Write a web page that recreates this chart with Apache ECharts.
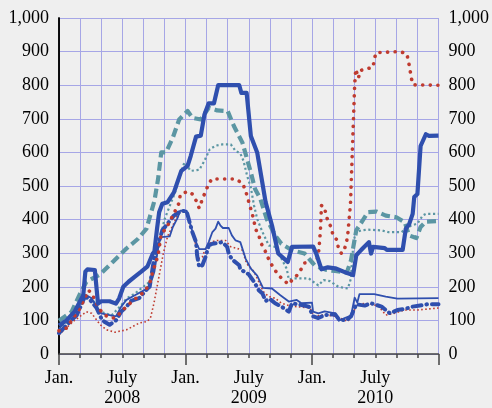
<!DOCTYPE html>
<html>
<head>
<meta charset="utf-8">
<script src="https://cdn.jsdelivr.net/npm/echarts@6/dist/echarts.min.js"></script>
<style>
html,body{margin:0;padding:0;background:#efefef;}
#c{width:492px;height:408px;}
</style>
</head>
<body>
<div id="c"></div>
<script>
// x values are months since January 2008
var tickMonths = [0, 6, 12, 18, 24, 30];
var tickText = ['Jan.', 'July\n2008', 'Jan.', 'July\n2009', 'Jan.', 'July\n2010'];

var thickBlue = [[0,85],[0.7,100],[1.5,127],[2.3,175],[2.5,245],[2.7,252],[3.4,250],[3.7,150],[4.0,157],[4.8,157],[5.4,150],[5.7,165],[6.1,200],[6.6,215],[7.2,230],[7.8,245],[8.4,261],[8.9,299],[9.05,305],[9.3,373],[9.5,422],[9.8,447],[10.3,452],[10.9,481],[11.6,545],[12.2,560],[12.5,590],[13,647],[13.45,650],[13.8,713],[14.2,746],[14.7,746],[15.1,800],[17.1,800],[17.3,777],[17.8,777],[18.2,649],[18.8,600],[19.6,452],[20.2,383],[20.8,299],[21.7,274],[22.1,319],[24.1,320],[24.4,299],[24.9,252],[25.5,258],[26.2,255],[27.4,240],[27.9,235],[28.2,294],[28.5,304],[28.8,314],[29.4,333],[29.6,299],[29.8,319],[30.9,315],[31.1,310],[32.6,310],[32.9,373],[33.2,385],[33.55,417],[33.7,467],[34.0,476],[34.3,619],[34.8,654],[35.1,649],[36,650]];

var thickTeal = [[0,99],[1.2,126],[2.0,180],[2.6,215],[3.9,237],[5.1,274],[6.4,314],[7.5,343],[8.3,373],[8.7,417],[9.05,456],[9.4,521],[9.7,600],[10.15,600],[10.8,644],[11.4,698],[12.2,723],[12.65,703],[13.45,698],[14.2,733],[15,725],[16,723],[16.6,678],[17.4,629],[18.2,540],[18.6,491],[19.1,462],[19.7,402],[20.5,353],[21.1,328],[22.1,309],[23.3,299],[24.3,262],[25.4,250],[26.2,247],[27.3,242],[27.7,279],[28,333],[28.2,368],[28.8,397],[29.3,422],[30.1,424],[31,412],[32,407],[32.8,392],[33.2,353],[33.9,345],[34.3,378],[34.8,394],[36,396]];

var thickRed = [[0,69],[0.7,77],[2,136],[2.8,190],[3.2,175],[3.55,151],[3.9,131],[4.3,116],[5,107],[5.4,108],[5.9,126],[6.4,141],[6.85,154],[7.5,171],[8.1,185],[8.6,210],[8.9,245],[9.4,294],[9.7,358],[10.15,373],[10.8,412],[11.4,450],[11.5,474],[12.2,484],[12.65,476],[13,457],[13.3,434],[13.6,461],[13.9,484],[14.2,506],[14.5,521],[16.7,521],[17.4,509],[17.7,486],[18.1,442],[18.3,420],[18.5,397],[18.6,375],[18.95,353],[19.2,328],[19.6,304],[20.0,274],[20.4,254],[20.8,235],[21.3,220],[21.8,207],[22.1,220],[22.6,235],[23,254],[23.3,271],[24.4,274],[24.6,294],[24.7,328],[24.8,368],[24.9,442],[25.2,437],[25.3,417],[25.5,397],[25.8,378],[26,353],[26.4,338],[26.5,314],[26.8,299],[27.1,314],[27.3,338],[27.4,358],[27.65,447],[28.05,802],[28.15,848],[28.4,821],[28.6,844],[29.15,848],[29.8,854],[29.9,878],[30.1,897],[32.35,900],[33,893],[33.15,871],[33.3,846],[33.4,823],[33.6,801],[36,800]];

var thinTeal = [[0,72],[1.5,115],[2.5,170],[3.1,166],[4,125],[5,115],[5.9,145],[6.4,165],[7.2,180],[7.8,195],[8.6,215],[9.05,260],[9.5,330],[10,400],[10.5,440],[11,480],[11.6,545],[11.9,570],[12.5,545],[13.3,548],[13.8,575],[14.3,609],[14.85,620],[15.5,624],[16.3,624],[16.75,604],[17.2,597],[17.5,575],[17.85,530],[18.2,495],[18.5,442],[18.8,402],[19.3,363],[19.9,323],[20.5,319],[21.1,284],[21.6,254],[21.8,222],[22.3,225],[23.7,225],[24.1,215],[24.6,204],[25.1,220],[25.7,217],[26.5,200],[27.4,195],[27.7,225],[27.8,284],[28,343],[28.2,363],[28.7,368],[29.3,370],[30.6,368],[31.2,363],[32.5,363],[32.8,370],[33.4,382],[34,388],[34.5,412],[34.8,417],[36,417]];

var thinBlue = [[0,75],[1.5,131],[2.3,166],[2.6,175],[3.1,166],[3.55,141],[4,121],[4.8,116],[5.4,112],[5.9,141],[6.4,161],[7.2,175],[8.1,190],[8.6,200],[9.05,245],[9.5,335],[9.7,348],[10.5,350],[10.8,378],[11.25,405],[11.5,427],[12.1,427],[12.3,405],[12.65,365],[13,333],[13.3,312],[13.9,312],[14.2,333],[14.55,363],[14.85,373],[15.1,394],[15.3,383],[15.55,375],[16.1,375],[16.4,353],[16.75,338],[17.2,333],[17.7,284],[18.2,254],[18.8,233],[19.35,197],[20.2,195],[21,175],[21.8,156],[22.55,161],[23,151],[24,153],[24.1,126],[24.6,121],[25.2,127],[26.2,121],[26.55,99],[27.1,107],[27.7,114],[28.05,168],[28.3,153],[28.5,178],[29.9,178],[31,171],[32.1,165],[36,166]];

var dashDotBlue = [[0,62],[1.2,101],[1.7,116],[2.45,171],[2.9,163],[3.55,138],[4.1,100],[4.8,87],[5.4,100],[5.9,126],[6.4,141],[6.85,158],[7.6,166],[8.4,195],[8.6,200],[9.05,289],[9.8,368],[10.3,388],[10.9,412],[11.6,426],[12.1,425],[12.65,363],[13,333],[13.1,294],[13.3,259],[13.6,264],[13.9,289],[14.2,323],[14.55,328],[15,330],[15.5,333],[15.95,319],[16.1,299],[16.4,282],[17.1,264],[17.2,252],[18,237],[18.5,215],[18.95,190],[19.3,180],[19.6,158],[20,164],[20.5,151],[21.1,141],[21.8,126],[22.1,151],[23,146],[23.7,141],[24.1,112],[24.6,107],[25.2,116],[26.2,118],[26.6,101],[27.3,101],[27.7,112],[28.2,148],[29,144],[29.6,151],[30.6,141],[31.4,121],[32.1,131],[32.8,134],[33.55,141],[34.95,148],[36,148]];

var thinRed = [[0,57],[1.35,97],[2.6,126],[3.1,121],[3.9,87],[4.5,72],[5.3,65],[6.4,72],[7.6,92],[8.4,97],[8.7,110],[9.0,150],[9.3,200],[9.6,250],[9.9,300],[10.3,350],[10.8,383],[11.2,410],[11.6,424],[12,424],[12.5,380],[13,323],[13.3,284],[13.6,289],[13.9,314],[14.4,333],[15,338],[15.8,338],[16.3,319],[16.9,314],[17.4,309],[17.8,269],[18.5,245],[18.95,215],[19.4,185],[19.9,171],[20.5,166],[21.1,151],[21.8,144],[22.55,141],[23.8,137],[24.2,112],[25.2,117],[26.3,112],[27.4,97],[27.9,121],[28.2,144],[29,151],[29.6,148],[30.3,143],[31,116],[31.8,121],[32.8,131],[34,131],[36,137]];

var BLUE = '#2f4fae', TEAL = '#5b96a3', RED = '#bf3b30';
var FONT = 'Liberation Serif';

function line(data, color, width, type, z, cap) {
  return {
    type: 'line', data: data, showSymbol: false, symbol: 'none', z: z,
    lineStyle: {color: color, width: width, type: type, cap: cap || 'butt', join: 'round'},
    animation: false
  };
}

var yLabel = {
  fontFamily: FONT, fontSize: 18, color: '#000', margin: 10,
  formatter: function (v) { return v.toLocaleString('en-US'); }
};

var chart = echarts.init(document.getElementById('c'));
chart.setOption({
  backgroundColor: '#efefef',
  animation: false,
  grid: {left: 59, right: 51, top: 18, bottom: 52, containLabel: false},
  xAxis: [{
    type: 'value', min: 0, max: 36, interval: 2, position: 'bottom',
    axisLine: {show: true, lineStyle: {color: '#444', width: 1.5}},
    axisTick: {show: true, length: 4, lineStyle: {color: '#444', width: 1.5}},
    splitLine: {show: true, lineStyle: {color: '#a6a6e6', width: 1}},
    axisLabel: {
      fontFamily: FONT, fontSize: 18, color: '#000', margin: 14, lineHeight: 20,
      showMinLabel: true, showMaxLabel: true,
      formatter: function (v) {
        var i = tickMonths.indexOf(Math.round(v));
        return i >= 0 ? tickText[i] : '';
      }
    }
  }, {
    type: 'value', min: 0, max: 36, interval: 12, position: 'bottom', offset: 0,
    axisLine: {show: false},
    axisTick: {show: true, length: 11, lineStyle: {color: '#444', width: 1.5}},
    splitLine: {show: false},
    axisLabel: {show: false}
  }],
  yAxis: [{
    type: 'value', min: 0, max: 1000, interval: 100, position: 'left',
    axisLine: {show: true, lineStyle: {color: '#000', width: 1.5}},
    axisTick: {show: false},
    splitLine: {show: true, lineStyle: {color: '#a6a6e6', width: 1}},
    axisLabel: yLabel
  }, {
    type: 'value', min: 0, max: 1000, interval: 100, position: 'right',
    axisLine: {show: true, lineStyle: {color: '#000', width: 1.5}},
    axisTick: {show: false},
    splitLine: {show: false},
    axisLabel: yLabel
  }],
  series: [
    line(thinRed, RED, 1.6, [1.6, 2.4], 2),
    line(thinTeal, TEAL, 2.2, [2.2, 2.6], 3),
    line(thinBlue, BLUE, 1.8, 'solid', 4),
    line(dashDotBlue, BLUE, 4, [9, 5, 0.5, 5], 5, 'round'),
    line(thickRed, RED, 3.6, [0.1, 7.5], 6, 'round'),
    line(thickTeal, TEAL, 4.2, [9, 4.5], 7),
    line(thickBlue, BLUE, 4.2, 'solid', 8)
  ]
});
</script>
</body>
</html>
